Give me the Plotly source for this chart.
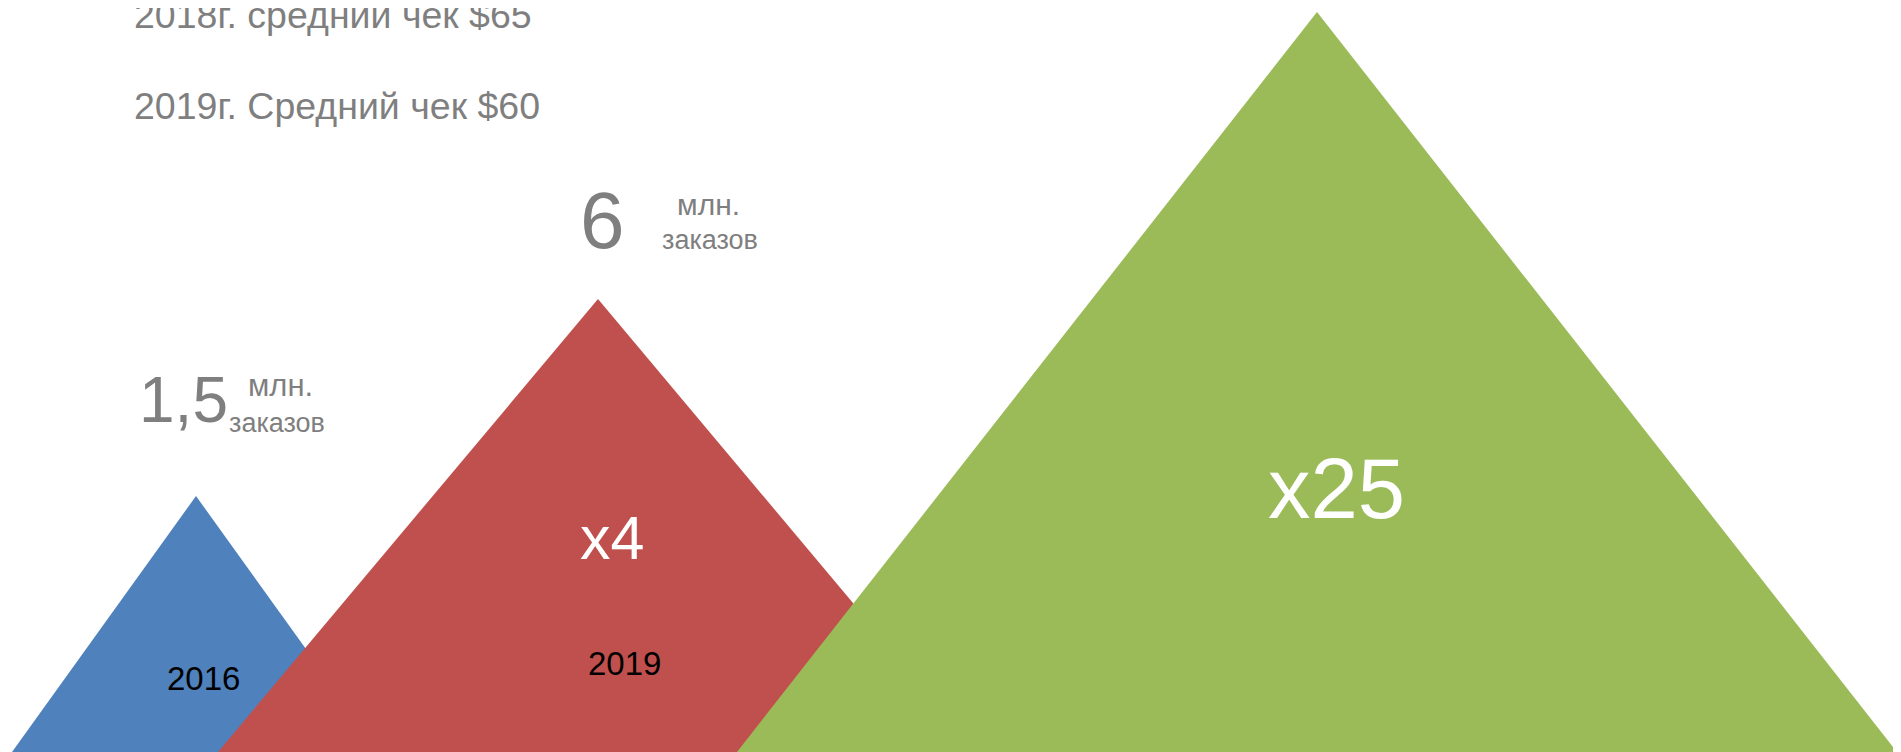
import plotly.graph_objects as go

# values
years = ["2016", "2019", ""]
orders = ["1,5", "6", ""]
growth = ["", "x4", "x25"]
peak = [256, 453, 740]          # triangle heights
centre = [196, 598, 1317]       # triangle centres on the x axis
half_base = [184, 380, 580]
colors = ["#4F81BD", "#C0504D", "#9BBB59"]
check_lines = ["2018г. средний чек $65", "2019г. Средний чек $60"]

W, H = 1901, 752
PAD = 8   # page body margin, the figure sits 8px in from the corner
FONT = "Liberation Sans, Arial, sans-serif"
GREY = "#7F7F7F"

fig = go.Figure()
for c, h, hb, col in zip(centre, peak, half_base, colors):
  fig.add_trace(go.Scatter(x=[c - hb, c, c + hb, c - hb],
                           y=[0, h, 0, 0],
                           fill="toself",
                           fillcolor=col,
                           mode="lines",
                           line=dict(width=0, color=col),
                           hoverinfo="skip",
                           showlegend=False))

def note(x, y, text, size, color=GREY, xanchor="left"):
  fig.add_annotation(x=x, y=y, text=text, showarrow=False,
                     xanchor=xanchor, yanchor="middle",
                     font=dict(family=FONT, size=size, color=color))

# average check lines (the first one runs off the top, as in the source)
note(132, 737, check_lines[0], 37.5)
note(132, 646, check_lines[1], 37.5)

# order counts
note(137, 352, orders[0], 64)
note(246, 367, "млн.", 31)
note(227, 329, "заказов", 27)
note(578, 532, orders[1], 80)
note(675, 548, "млн.", 30)
note(660, 512, "заказов", 27)

# growth multipliers
note(612, 214, growth[1], 61, "white", "center")
note(1336, 264, growth[2], 85, "white", "center")

# years
note(203, 74, years[0], 33, "black", "center")
note(624, 89, years[1], 33, "black", "center")

fig.update_xaxes(range=[PAD, W + PAD], visible=False, fixedrange=True)
fig.update_yaxes(range=[-PAD, H - PAD], visible=False, fixedrange=True)
fig.update_layout(width=W,
                  height=H,
                  showlegend=False,
                  margin=dict(l=0, r=0, t=0, b=0),
                  paper_bgcolor="white",
                  plot_bgcolor="white")
fig.write_html("out.html", config={"displayModeBar": False})
